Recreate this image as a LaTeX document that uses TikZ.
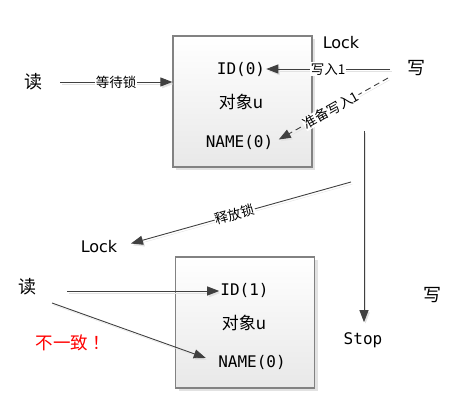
\documentclass[tikz,border=0pt]{standalone}
\usepackage{fontspec}
\setmainfont{Noto Sans CJK SC}
\setmonofont{DejaVu Sans Mono}
\newfontfamily\locksans{DejaVu Sans}
\usetikzlibrary{arrows.meta,shadows}
\definecolor{lineink}{HTML}{404040}
\definecolor{boxedge}{HTML}{828282}
\definecolor{shadegray}{HTML}{E2E2E2}
\definecolor{warnred}{HTML}{FF0000}
\tikzset{
  objbox/.style={draw=boxedge, line width=1.2pt, top color=white,
    bottom color=black!9, minimum width=139pt, minimum height=131pt,
    drop shadow={shadow xshift=3pt, shadow yshift=-3pt, fill=shadegray, opacity=1}},
  field/.style={font=\ttfamily\fontsize{16}{18}\selectfont, inner sep=1pt},
  objname/.style={font=\fontsize{17}{20}\selectfont, inner sep=1pt},
  actor/.style={font=\fontsize{18}{20}\selectfont, inner sep=1pt},
  state/.style={font=\locksans\fontsize{16}{18}\selectfont, inner sep=1pt},
  stopstate/.style={font=\ttfamily\fontsize{16}{18}\selectfont, inner sep=2pt},
  warn/.style={font=\fontsize{17.5}{20}\selectfont, text=warnred, inner sep=1pt},
  tag/.style={font=\fontsize{13.5}{15}\selectfont, fill=white, inner sep=0.5pt},
  flow/.style={-{Triangle[length=12pt,width=9pt]}, draw=lineink, line width=0.9pt,
    preaction={draw=shadegray, transform canvas={shift={(1.5pt,-2pt)}}}},
  pending/.style={flow, dash pattern=on 6pt off 4pt},
}
\begin{document}
\begin{tikzpicture}[x=1pt, y=-1pt]
\useasboundingbox (0,0) rectangle (455,403);

% upper object: write in progress
\node[objbox] (obj1) at (242.5,101.5) {};
\node[field] (id0) at (241,69) {ID(0)};
\node[objname] (u1) at (241,102) {对象u};
\node[field] (name0) at (239.5,142) {NAME(0)};

\node[actor] (read1) at (33,82) {读};
\node[actor] (write1) at (416,68) {写};
\node[state] (lock1) at (341,43) {Lock};

% lower object: read after the lock is gone
\node[objbox] (obj2) at (245,322.5) {};
\node[field] (id1) at (244.5,290) {ID(1)};
\node[objname] (u2) at (244,323) {对象u};
\node[field] (name1) at (252,362) {NAME(0)};

\node[actor] (read2) at (27,287) {读};
\node[actor] (write2) at (432,295) {写};
\node[state] (lock2) at (99,247) {Lock};
\node[stopstate] (stop) at (363,340) {Stop};
\node[warn] (conflict) at (73,343) {不一致\kern5pt！};

\coordinate (r1out) at (60,82);
\coordinate (w1out) at (390,69);
\coordinate (w1dash) at (388,78);
\coordinate (w1down) at (364,131);
\coordinate (relstart) at (351,182);
\coordinate (r2out) at (67,291);
\coordinate (r2slant) at (52,303);

\draw[flow] (r1out) -- node[tag] {等待锁} (r1out -| obj1.west);
\draw[flow] (w1out) -- node[tag] {写入1} (id0.east);
\draw[pending, shorten >=5pt] (w1dash) -- node[tag, sloped] {准备写入1} (name0.east);
\draw[flow, shorten >=8pt] (w1down) -- (w1down |- stop.north);
\draw[flow, shorten >=13pt] (relstart) -- node[tag, sloped] {释放锁} (lock2.east);
\draw[flow] (r2out) -- (r2out -| id1.west);
\draw[flow, shorten >=12pt] (r2slant) -- (name1.west);

\end{tikzpicture}
\end{document}
